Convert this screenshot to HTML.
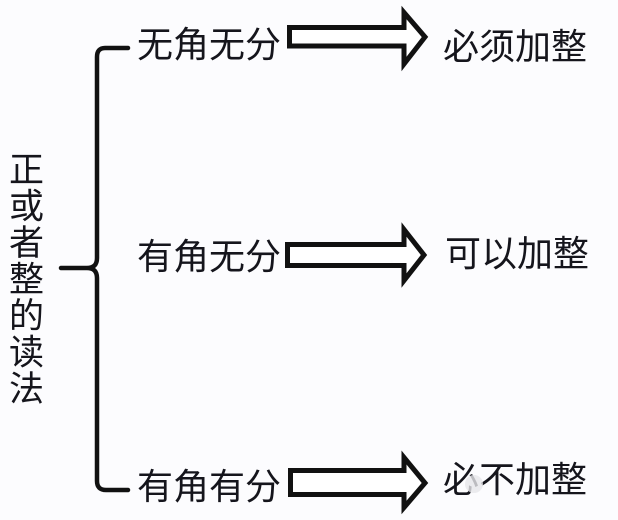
<!DOCTYPE html>
<html>
<head>
<meta charset="utf-8">
<style>
html,body{margin:0;padding:0;background:#fcfcfe;}
svg{display:block;}
text{font-family:"Liberation Sans","Noto Sans CJK SC",sans-serif;fill:#15151c;}
</style>
</head>
<body>
<svg width="618" height="520" viewBox="0 0 618 520" xmlns="http://www.w3.org/2000/svg">
<rect width="618" height="520" fill="#fcfcfe"/>
<!-- vertical title -->
<g font-size="35">
<text x="9" y="182">正</text>
<text x="9" y="218.5">或</text>
<text x="9" y="255">者</text>
<text x="9" y="291.5">整</text>
<text x="9" y="328">的</text>
<text x="9" y="364.5">读</text>
<text x="9" y="401">法</text>
</g>
<!-- brace -->
<path d="M128,48 H105 Q97,48 97,57 V258 Q97,268 87,268 H61 M87,268 Q97,268 97,278 V481 Q97,490 106,490 H128" fill="none" stroke="#111" stroke-width="4.5" stroke-linecap="round"/>
<!-- left labels -->
<g font-size="36">
<text x="137" y="57">无角无分</text>
<text x="137" y="269">有角无分</text>
<text x="137" y="499">有角有分</text>
</g>
<!-- arrows -->
<g fill="#fff" stroke="#111" stroke-width="5" stroke-linejoin="miter">
<polygon points="289.5,27.5 404,27.5 404,12.5 425,37 404,64 404,46 289.5,46"/>
<polygon points="287.5,244.5 404,244.5 404,229.5 424,255 404,280.5 404,265.5 287.5,265.5"/>
<polygon points="290.5,470.5 404,470.5 404,457.5 425,483 404,507.5 404,494.5 290.5,494.5"/>
</g>
<!-- right labels -->
<g font-size="36">
<text x="443" y="59">必须加整</text>
<text x="445" y="266">可以加整</text>
<text x="443" y="492">必不加整</text>
</g>
<!-- faint watermark -->
<circle cx="474" cy="484" r="9" fill="#e6e6ea" opacity="0.8"/>
</svg>
</body>
</html>
